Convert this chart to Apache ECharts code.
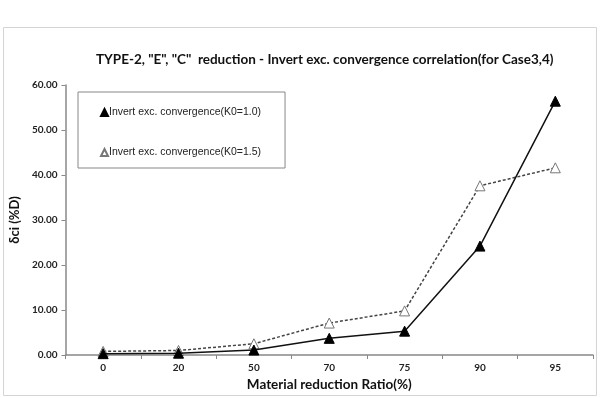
<!DOCTYPE html>
<html>
<head>
<meta charset="utf-8">
<script src="https://cdn.jsdelivr.net/npm/echarts@6/dist/echarts.min.js"></script>
<style>
  html, body { margin: 0; padding: 0; background: #fff; }
  #chart { width: 601px; height: 398px; }
</style>
</head>
<body>
<div id="chart"></div>
<script>
const categories = ["0", "20", "50", "70", "75", "90", "95"];
const convK10 = [0.3, 0.4, 1.1, 3.7, 5.3, 24.2, 56.4];
const convK15 = [0.8, 1.0, 2.5, 7.1, 9.8, 37.6, 41.6];
const yTicks = [0, 10, 20, 30, 40, 50, 60];

const NARROW = "'Liberation Sans Narrow', sans-serif";
const BOLD = "Lato, 'DejaVu Sans', sans-serif";
const chart = echarts.init(document.getElementById("chart"));

chart.setOption({
  animation: false,
  backgroundColor: "#fff",
  title: {
    text: 'TYPE-2, "E", "C"  reduction - Invert exc. convergence correlation(for Case3,4)',
    left: 91,
    top: 48,
    textStyle: { fontFamily: BOLD, fontSize: 13.5, fontWeight: "bold", color: "#111" }
  },
  graphic: [
    {
      type: "rect",
      shape: { x: 3.5, y: 27.5, width: 593, height: 368 },
      style: { fill: "none", stroke: "#d4d4d4", lineWidth: 1 },
      silent: true
    }
  ],
  legend: {
    left: 78,
    top: 92,
    orient: "vertical",
    width: 212,
    padding: [15, 24, 10, 22],
    itemGap: 29,
    itemWidth: 7,
    itemHeight: 7,
    borderColor: "#888",
    borderWidth: 1,
    textStyle: { fontFamily: NARROW, fontSize: 10.5, color: "#222", padding: [0, 0, 0, -4] },
    data: [
      { name: "Invert exc. convergence(K0=1.0)", icon: "triangle" },
      { name: "Invert exc. convergence(K0=1.5)", icon: "triangle" }
    ]
  },
  grid: { left: 65, right: 8, top: 85, bottom: 43 },
  xAxis: {
    type: "category",
    data: categories,
    boundaryGap: true,
    name: "Material reduction Ratio(%)",
    nameLocation: "middle",
    nameGap: 20,
    nameTextStyle: { fontFamily: BOLD, fontSize: 13.5, fontWeight: "bold", color: "#111" },
    axisLine: { lineStyle: { color: "#888", width: 1.5 } },
    axisTick: { show: true, length: 4, lineStyle: { color: "#888" } },
    axisLabel: { fontFamily: BOLD, fontSize: 10, fontWeight: "bold", color: "#222", margin: 8 }
  },
  yAxis: {
    type: "value",
    min: yTicks[0],
    max: yTicks[yTicks.length - 1],
    interval: 10,
    name: "δci (%D)",
    nameLocation: "middle",
    nameGap: 38,
    nameTextStyle: { fontFamily: BOLD, fontSize: 13, fontWeight: "bold", color: "#111" },
    axisLine: { show: true, lineStyle: { color: "#888", width: 1.5 } },
    axisTick: { show: true, length: 4, lineStyle: { color: "#888" } },
    splitLine: { show: false },
    axisLabel: {
      fontFamily: BOLD, fontSize: 10, fontWeight: "bold", color: "#222", margin: 8,
      formatter: (v) => v.toFixed(2)
    }
  },
  series: [
    {
      name: "Invert exc. convergence(K0=1.0)",
      type: "line",
      data: convK10,
      symbol: "triangle",
      symbolSize: 10,
      z: 3,
      lineStyle: { color: "#111", width: 1.5, type: "solid" },
      itemStyle: { color: "#000", borderColor: "#000", borderWidth: 1 }
    },
    {
      name: "Invert exc. convergence(K0=1.5)",
      type: "line",
      data: convK15,
      symbol: "triangle",
      symbolSize: 10,
      z: 2,
      lineStyle: { color: "#444", width: 1.5, type: [3, 2] },
      itemStyle: { color: "#fff", borderColor: "#777", borderWidth: 1 }
    }
  ]
});
</script>
</body>
</html>
